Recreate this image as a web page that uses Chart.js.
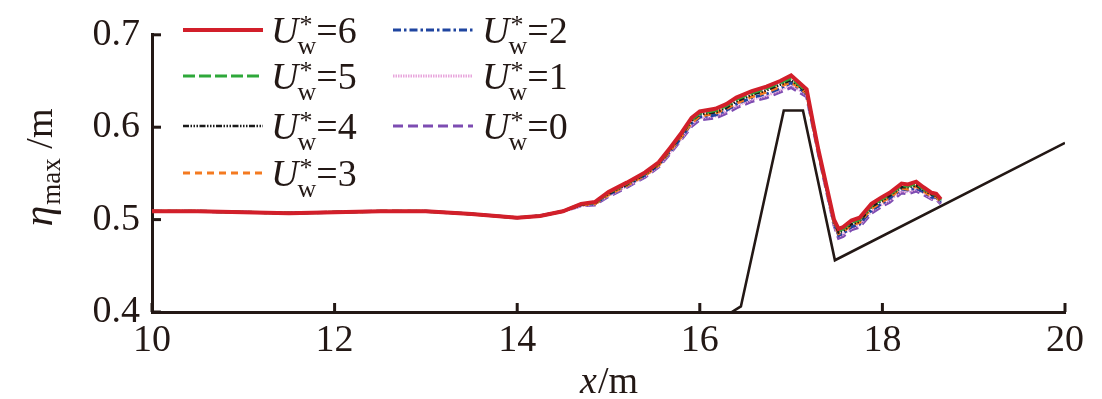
<!DOCTYPE html>
<html>
<head>
<meta charset="utf-8">
<script src="https://cdn.jsdelivr.net/npm/chart.js@4.4.1/dist/chart.umd.min.js"></script>
<style>
html,body{margin:0;padding:0;background:#fff;}
#c{display:block;}
.pre{position:absolute;left:-9999px;top:0;font-family:"Liberation Serif";font-size:36px;}
.pre i{font-style:italic;}
</style>
</head>
<body>
<div class="pre">0.5 <i>x U</i> η</div>
<canvas id="c" width="1102" height="399"></canvas>
<script>
// ---- data ----
const xs = [10, 10.5, 11, 11.5, 12, 12.5, 13, 13.5, 14, 14.25, 14.5, 14.7, 14.85, 15.0, 15.2, 15.4, 15.55, 15.67, 15.8, 15.91, 16.0, 16.17, 16.29, 16.4, 16.57, 16.73, 16.88, 17.0, 17.17, 17.24, 17.3, 17.47, 17.52, 17.57, 17.66, 17.75, 17.88, 17.99, 18.08, 18.21, 18.28, 18.37, 18.45, 18.54, 18.59, 18.64];

const u6 = [0.509,0.509,0.508,0.507,0.508,0.509,0.509,0.506,0.502,0.504,0.509,0.517,0.519,0.530,0.540,0.551,0.562,0.577,0.594,0.610,0.617,0.620,0.625,0.632,0.639,0.644,0.650,0.656,0.641,0.605,0.575,0.500,0.490,0.492,0.499,0.502,0.517,0.524,0.529,0.539,0.538,0.541,0.535,0.529,0.528,0.522];
const u5 = [0.509,0.509,0.508,0.507,0.508,0.509,0.509,0.506,0.502,0.504,0.509,0.517,0.518,0.529,0.539,0.550,0.561,0.576,0.593,0.608,0.615,0.618,0.623,0.630,0.637,0.642,0.648,0.653,0.639,0.604,0.574,0.499,0.488,0.490,0.497,0.500,0.515,0.522,0.527,0.537,0.536,0.539,0.533,0.528,0.527,0.521];
const u4 = [0.509,0.509,0.508,0.507,0.508,0.509,0.509,0.506,0.502,0.504,0.509,0.516,0.518,0.528,0.538,0.549,0.560,0.575,0.592,0.607,0.614,0.616,0.621,0.628,0.635,0.640,0.646,0.651,0.638,0.603,0.574,0.498,0.486,0.488,0.495,0.498,0.514,0.520,0.526,0.535,0.535,0.537,0.532,0.527,0.526,0.520];
const u3 = [0.509,0.509,0.508,0.507,0.508,0.509,0.509,0.506,0.502,0.504,0.509,0.516,0.517,0.527,0.537,0.548,0.559,0.574,0.590,0.605,0.612,0.615,0.620,0.626,0.633,0.638,0.644,0.649,0.637,0.602,0.573,0.497,0.485,0.487,0.494,0.497,0.512,0.519,0.524,0.534,0.533,0.536,0.531,0.525,0.525,0.519];
const u2 = [0.509,0.509,0.508,0.507,0.508,0.509,0.509,0.506,0.502,0.504,0.509,0.516,0.517,0.527,0.537,0.548,0.559,0.573,0.589,0.604,0.611,0.613,0.618,0.625,0.632,0.636,0.642,0.648,0.636,0.602,0.572,0.496,0.483,0.485,0.492,0.495,0.510,0.517,0.523,0.533,0.532,0.534,0.530,0.524,0.524,0.519];
const u1 = [0.509,0.509,0.508,0.507,0.508,0.509,0.509,0.506,0.502,0.504,0.509,0.515,0.517,0.526,0.536,0.547,0.558,0.572,0.588,0.603,0.610,0.612,0.617,0.623,0.630,0.634,0.640,0.646,0.635,0.601,0.572,0.495,0.482,0.484,0.491,0.494,0.509,0.516,0.521,0.531,0.530,0.533,0.529,0.523,0.523,0.518];
const u0 = [0.509,0.509,0.508,0.507,0.508,0.509,0.509,0.506,0.502,0.504,0.509,0.515,0.516,0.525,0.535,0.546,0.557,0.571,0.587,0.601,0.608,0.610,0.615,0.621,0.628,0.632,0.638,0.643,0.633,0.600,0.571,0.494,0.480,0.482,0.489,0.492,0.507,0.514,0.519,0.529,0.528,0.531,0.527,0.522,0.522,0.517];

const bedX = [16.35, 16.45, 16.92, 17.13, 17.48, 20];
const bedY = [0.400, 0.406, 0.618, 0.618, 0.456, 0.583];

const uValues = ['6', '5', '4', '3', '2', '1', '0'];
const xTicks = [10, 12, 14, 16, 18, 20];
const yTicks = [0.4, 0.5, 0.6, 0.7];

// ---- styles ----
const INK = '#231815';
const styles = [
  {c:'#d21f2a', w:4, d:[]},
  {c:'#2ea83a', w:3, d:[12,4]},
  {c:'#1a1a1a', w:2.6, d:[6,1.5,1.5,1.5,1.5,1.5,1.5,1.5]},
  {c:'#f47a20', w:3, d:[7,5]},
  {c:'#1f45a0', w:2.8, d:[8,3,2.5,3]},
  {c:'#e8a6dc', w:2.8, d:[1.5,1]},
  {c:'#7d4cb2', w:3.2, d:[10,5]}
];
const series = [u6, u5, u4, u3, u2, u1, u0];

const pts = (xa, ya) => xa.map((x, i) => ({x: x, y: ya[i]}));

const datasets = series.map((s, i) => ({
  label: 'U*w=' + uValues[i],
  data: pts(xs, s),
  borderColor: styles[i].c,
  borderWidth: styles[i].w,
  borderDash: styles[i].d,
  pointRadius: 0,
  fill: false,
  tension: 0
}));
datasets.push({
  label: 'bed',
  data: pts(bedX, bedY),
  borderColor: INK,
  borderWidth: 2.6,
  pointRadius: 0,
  fill: false,
  tension: 0
});

const SERIF = '"Liberation Serif", Tinos, "Times New Roman", Times, serif';

const deco = {
  id: 'deco',
  afterDraw(chart) {
    const ctx = chart.ctx;
    const xs_ = chart.scales.x, ys_ = chart.scales.y;
    const ca = chart.chartArea;
    ctx.save();
    ctx.strokeStyle = INK;
    ctx.lineWidth = 3;
    xTicks.forEach(v => {
      const px = xs_.getPixelForValue(v);
      ctx.beginPath(); ctx.moveTo(px, ca.bottom); ctx.lineTo(px, ca.bottom - 9); ctx.stroke();
    });
    yTicks.forEach(v => {
      const py = ys_.getPixelForValue(v);
      ctx.beginPath(); ctx.moveTo(ca.left, py); ctx.lineTo(ca.left + 9, py); ctx.stroke();
    });

    // legend
    const cols = [{lx:183, tx:271}, {lx:393, tx:482}];
    const rows = [30, 76, 126, 173];
    const place = [[0,0],[0,1],[0,2],[0,3],[1,0],[1,1],[1,2]];
    ctx.fillStyle = INK;
    ctx.textBaseline = 'alphabetic';
    ctx.textAlign = 'left';
    place.forEach((p, i) => {
      const col = cols[p[0]], y = rows[p[1]];
      const st = styles[i];
      ctx.save();
      ctx.strokeStyle = st.c; ctx.lineWidth = st.w; ctx.setLineDash(st.d);
      ctx.beginPath(); ctx.moveTo(col.lx, y); ctx.lineTo(col.lx + 80, y); ctx.stroke();
      ctx.restore();
      let x = col.tx;
      ctx.font = 'italic 38px ' + SERIF;
      ctx.fillText('U', x, y + 13);
      x += ctx.measureText('U').width - 1;
      ctx.font = '26px ' + SERIF;
      ctx.fillText('*', x + 2, y + 3);
      ctx.fillText('w', x, y + 24);
      x += ctx.measureText('w').width;
      ctx.font = '38px ' + SERIF;
      ctx.fillText('=' + uValues[i], x, y + 13);
    });

    // x title
    ctx.font = 'italic 38px ' + SERIF;
    const w1 = ctx.measureText('x').width;
    ctx.font = '38px ' + SERIF;
    const w2 = ctx.measureText('/m').width;
    const cx = (ca.left + ca.right) / 2;
    let sx = cx - (w1 + w2) / 2;
    ctx.font = 'italic 38px ' + SERIF;
    ctx.fillText('x', sx, 393);
    ctx.font = '38px ' + SERIF;
    ctx.fillText('/m', sx + w1 + 1, 393);

    // y title (rotated)
    ctx.save();
    ctx.translate(52, 168);
    ctx.rotate(-Math.PI / 2);
    ctx.font = 'italic 42px ' + SERIF;
    const e1 = ctx.measureText('\u03b7').width;
    ctx.font = '27px ' + SERIF;
    const e2 = ctx.measureText('max').width;
    ctx.font = '38px ' + SERIF;
    const e3 = ctx.measureText(' /m').width;
    let tx = -(e1 + e2 + e3) / 2;
    ctx.font = 'italic 42px ' + SERIF;
    ctx.fillText('\u03b7', tx, 0);
    tx += e1 + 1;
    ctx.font = '27px ' + SERIF;
    ctx.fillText('max', tx, 8);
    tx += e2;
    ctx.font = '38px ' + SERIF;
    ctx.fillText(' /m', tx, 0);
    ctx.restore();

    ctx.restore();
  }
};

function build() {
  new Chart(document.getElementById('c'), {
    type: 'line',
    data: {datasets: datasets},
    options: {
      responsive: false,
      animation: false,
      layout: {padding: {top: 12, right: 37, left: 0, bottom: 0}},
      plugins: {legend: {display: false}, tooltip: {enabled: false}},
      scales: {
        x: {
          type: 'linear', min: 10, max: 20,
          afterFit(s) { s.height = 87; },
          afterBuildTicks(s) { s.ticks = xTicks.map(v => ({value: v})); },
          grid: {display: false, drawTicks: false},
          border: {display: true, color: INK, width: 3},
          ticks: {color: INK, font: {family: SERIF, size: 38}, padding: 6, maxRotation: 0}
        },
        y: {
          type: 'linear', min: 0.4, max: 0.7,
          afterFit(s) { s.width = 152; },
          afterBuildTicks(s) { s.ticks = yTicks.map(v => ({value: v})); },
          grid: {display: false, drawTicks: false},
          border: {display: true, color: INK, width: 3},
          ticks: {color: INK, font: {family: SERIF, size: 38}, padding: 12,
            callback: v => v.toFixed(1)}
        }
      }
    },
    plugins: [deco]
  });
}

if (document.fonts && document.fonts.load) {
  Promise.all([
    document.fonts.load('38px "Liberation Serif"'),
    document.fonts.load('italic 38px "Liberation Serif"')
  ]).then(build, build);
} else {
  build();
}
</script>
</body>
</html>
